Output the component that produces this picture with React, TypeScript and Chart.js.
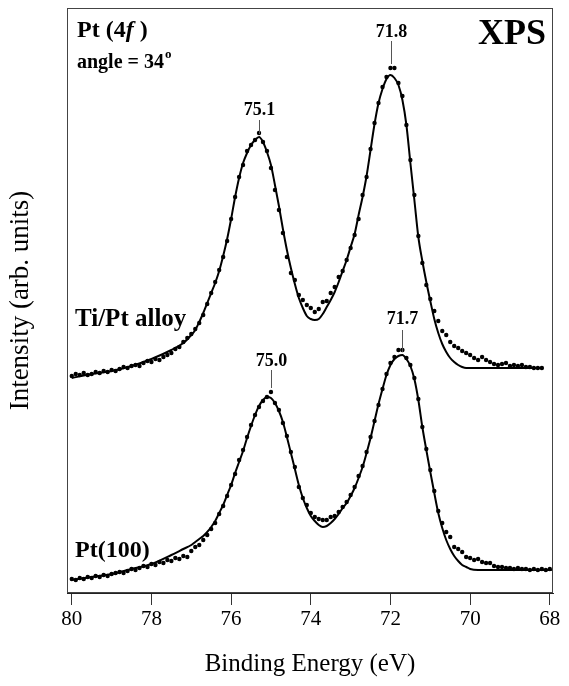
import React, { useEffect, useRef } from "react";
import { Chart, registerables } from "chart.js";

Chart.register(...registerables);

// Binding energy grid of the measured points (eV)
const ENERGY_GRID = [
  80.0, 79.9, 79.8, 79.7, 79.6, 79.5, 79.4, 79.3, 79.2, 79.1,
  79.0, 78.9, 78.8, 78.7, 78.6, 78.5, 78.4, 78.3, 78.2, 78.1,
  78.0, 77.9, 77.8, 77.7, 77.6, 77.5, 77.4, 77.3, 77.2, 77.1,
  77.0, 76.9, 76.8, 76.7, 76.6, 76.5, 76.4, 76.3, 76.2, 76.1,
  76.0, 75.9, 75.8, 75.7, 75.6, 75.5, 75.4, 75.3, 75.2, 75.1,
  75.0, 74.9, 74.8, 74.7, 74.6, 74.5, 74.4, 74.3, 74.2, 74.1,
  74.0, 73.9, 73.8, 73.7, 73.6, 73.5, 73.4, 73.3, 73.2, 73.1,
  73.0, 72.9, 72.8, 72.7, 72.6, 72.5, 72.4, 72.3, 72.2, 72.1,
  72.0, 71.9, 71.8, 71.7, 71.6, 71.5, 71.4, 71.3, 71.2, 71.1,
  71.0, 70.9, 70.8, 70.7, 70.6, 70.5, 70.4, 70.3, 70.2, 70.1,
  70.0, 69.9, 69.8, 69.7, 69.6, 69.5, 69.4, 69.3, 69.2, 69.1,
  69.0, 68.9, 68.8, 68.7, 68.6, 68.5, 68.4, 68.3, 68.2, 68.1,
  68.0,
];

// Ti/Pt alloy measured intensity (arb. units, offset spectrum)
const TI_PT_DOTS = [
  217, 219, 218, 220, 218, 219, 221, 220, 222, 221,
  223, 222, 224, 226, 225, 227, 228, 227, 230, 232,
  231, 234, 233, 236, 238, 240, 244, 246, 251, 255,
  259, 264, 270, 278, 289, 300, 311, 323, 336, 352,
  374, 396, 416, 428, 442, 448, 453, 460, 451, 442,
  425, 403, 383, 360, 336, 320, 313, 298, 293, 288,
  285, 281, 284, 291, 292, 300, 306, 316, 322, 333,
  345, 358, 374, 398, 416, 444, 470, 490, 506, 516,
  525, 525, 510, 497, 468, 433, 398, 357, 330, 308,
  294, 282, 272, 262, 258, 251, 247, 245, 242, 240,
  238, 235, 233, 236, 233, 231, 229, 228, 229, 230,
  227, 228, 227, 228, 226, 226, 225, 225, 225,
];

// Pt(100) measured intensity
const PT100_DOTS = [
  14, 13, 15, 14, 16, 15, 17, 16, 18, 17,
  19, 20, 21, 20, 22, 24, 23, 25, 27, 26,
  29, 28, 31, 30, 33, 32, 35, 34, 37, 36,
  42, 46, 48, 53, 58, 64, 70, 79, 87, 97,
  108, 119, 133, 143, 156, 168, 178, 186, 192, 196,
  201, 190, 183, 170, 157, 141, 126, 106, 95, 88,
  80, 76, 74, 73, 73, 76, 77, 81, 86, 91,
  98, 106, 117, 127, 141, 156, 172, 188, 204, 219,
  230, 236, 243, 243, 235, 228, 215, 194, 166, 144,
  123, 102, 82, 70, 61, 56, 46, 44, 41, 36,
  35, 33, 34, 31, 30, 30, 27, 26, 26, 25,
  25, 24, 25, 24, 24, 23, 24, 23, 24, 23,
  24,
];

// Fitted envelopes
const TI_PT_FIT_E = [
  80.0, 79.5, 79.0, 78.5, 78.0, 77.5, 77.2, 77.0,
  76.9, 76.8, 76.7, 76.6, 76.5, 76.4, 76.3, 76.2, 76.1, 76.0,
  75.9, 75.8, 75.7, 75.6, 75.5, 75.4, 75.3, 75.2, 75.1, 75.0,
  74.9, 74.8, 74.7, 74.6, 74.5, 74.4, 74.3, 74.2, 74.1, 74.0,
  73.9, 73.8, 73.7, 73.6, 73.5, 73.4, 73.3, 73.2, 73.1, 73.0,
  72.9, 72.8, 72.7, 72.6, 72.5, 72.4, 72.3, 72.2, 72.1, 72.0,
  71.9, 71.8, 71.7, 71.6, 71.5, 71.4, 71.3, 71.2, 71.1, 71.0,
  70.9, 70.8, 70.7, 70.6, 70.5, 70.4, 70.3, 70.2, 70.1, 70.0,
  68.2,
];
const TI_PT_FIT = [
  215, 219, 222, 227, 234, 243, 250, 258,
  263, 271, 280, 290, 300, 310, 322, 337, 354, 374,
  396, 415, 430, 440, 448, 453, 456, 451, 441, 428,
  408, 387, 364, 343, 325, 309, 295, 285, 277, 274,
  273, 274, 279, 286, 293, 301, 311, 322, 333, 346,
  359, 378, 396, 417, 443, 469, 490, 504, 514, 518,
  515, 508, 493, 468, 430, 393, 356, 332, 311, 292,
  274, 260, 249, 241, 235, 231, 228, 226, 225, 225,
  225,
];

const PT100_FIT_E = [
  80.0, 79.5, 79.0, 78.5, 78.0, 77.5, 77.2, 77.0,
  76.9, 76.8, 76.7, 76.6, 76.5, 76.4, 76.3, 76.2, 76.1, 76.0,
  75.9, 75.8, 75.7, 75.6, 75.5, 75.4, 75.3, 75.2, 75.1, 75.0,
  74.9, 74.8, 74.7, 74.6, 74.5, 74.4, 74.3, 74.2, 74.1, 74.0,
  73.9, 73.8, 73.7, 73.6, 73.5, 73.4, 73.3, 73.2, 73.1, 73.0,
  72.9, 72.8, 72.7, 72.6, 72.5, 72.4, 72.3, 72.2, 72.1, 72.0,
  71.9, 71.8, 71.7, 71.6, 71.5, 71.4, 71.3, 71.2, 71.1, 71.0,
  70.9, 70.8, 70.7, 70.6, 70.5, 70.4, 70.3, 70.2, 70.1, 70.0,
  69.8, 67.95,
];
const PT100_FIT = [
  13, 16, 19, 24, 29, 38, 44, 48,
  51, 54, 57, 61, 66, 72, 80, 88, 98, 108,
  120, 131, 142, 155, 167, 178, 187, 193, 196, 195,
  190, 182, 171, 156, 140, 124, 108, 95, 85, 77,
  72, 68, 66, 67, 70, 74, 79, 85, 90, 97,
  105, 115, 126, 140, 155, 172, 189, 204, 218, 228,
  234, 237, 238, 234, 227, 214, 193, 166, 143, 121,
  100, 80, 65, 53, 44, 37, 32, 28, 26, 24,
  23, 23,
];

const X_TICKS = [80, 78, 76, 74, 72, 70, 68];

const PEAK_LABELS = [
  { text: "75.1", e: 75.3, lineFrom: 459, lineTo: 473, textAt: 483 },
  { text: "71.8", e: 71.99, lineFrom: 529, lineTo: 552, textAt: 561 },
  { text: "75.0", e: 75.01, lineFrom: 205, lineTo: 223, textAt: 232 },
  { text: "71.7", e: 71.71, lineFrom: 241, lineTo: 263, textAt: 274 },
];

const SERIF = "'Liberation Serif', 'Times New Roman', serif";

const overlay = {
  id: "overlay",
  afterDatasetsDraw(chart: any) {
    const { ctx, chartArea: a, scales } = chart;
    const xs = scales.x;
    const ys = scales.y;
    ctx.save();
    // plot frame
    ctx.strokeStyle = "#444";
    ctx.lineWidth = 1;
    ctx.strokeRect(a.left + 0.5, a.top + 0.5, a.right - a.left - 1, a.bottom - a.top - 1);

    // peak markers
    ctx.fillStyle = "#000";
    ctx.strokeStyle = "#555";
    ctx.textAlign = "center";
    ctx.textBaseline = "middle";
    ctx.font = `bold 18px ${SERIF}`;
    for (const p of PEAK_LABELS) {
      const px = Math.round(xs.getPixelForValue(p.e)) + 0.5;
      ctx.beginPath();
      ctx.moveTo(px, ys.getPixelForValue(p.lineFrom));
      ctx.lineTo(px, ys.getPixelForValue(p.lineTo));
      ctx.stroke();
      ctx.fillText(p.text, px, ys.getPixelForValue(p.textAt));
    }

    // labels
    ctx.textAlign = "left";
    ctx.textBaseline = "alphabetic";
    let x = 77;
    ctx.font = `bold 24px ${SERIF}`;
    ctx.fillText("Pt (4", x, 37);
    x += ctx.measureText("Pt (4").width;
    ctx.font = `italic bold 24px ${SERIF}`;
    ctx.fillText("f", x, 37);
    x += ctx.measureText("f").width;
    ctx.font = `bold 24px ${SERIF}`;
    ctx.fillText(" )", x, 37);

    ctx.font = `bold 20px ${SERIF}`;
    ctx.fillText("angle = 34", 77, 68);
    const w = ctx.measureText("angle = 34").width;
    ctx.font = `bold 13px ${SERIF}`;
    ctx.fillText("o", 77 + w + 1, 58);

    ctx.font = `bold 36px ${SERIF}`;
    ctx.fillText("XPS", 478, 44);

    ctx.font = `bold 25px ${SERIF}`;
    ctx.fillText("Ti/Pt alloy", 75, 326);
    ctx.font = `bold 24px ${SERIF}`;
    ctx.fillText("Pt(100)", 75, 557);
    ctx.restore();
  },
};

export default function App() {
  const ref = useRef<HTMLCanvasElement | null>(null);

  useEffect(() => {
    if (!ref.current) return;
    const dot = {
      showLine: false,
      pointRadius: 2.2,
      pointBackgroundColor: "#000",
      pointBorderWidth: 0,
      borderColor: "#000",
    };
    const fit = {
      borderColor: "#000",
      borderWidth: 2,
      pointRadius: 0,
      fill: false,
      cubicInterpolationMode: "monotone" as const,
    };
    const chart = new Chart(ref.current, {
      type: "line",
      data: {
        datasets: [
          { label: "Ti/Pt alloy fit", data: TI_PT_FIT_E.map((e, i) => ({ x: e, y: TI_PT_FIT[i] })), ...fit },
          { label: "Ti/Pt alloy", data: TI_PT_DOTS.map((v, i) => ({ x: ENERGY_GRID[i], y: v })), ...dot },
          { label: "Pt(100) fit", data: PT100_FIT_E.map((e, i) => ({ x: e, y: PT100_FIT[i] })), ...fit },
          { label: "Pt(100)", data: PT100_DOTS.map((v, i) => ({ x: ENERGY_GRID[i], y: v })), ...dot },
        ],
      },
      options: {
        animation: false,
        responsive: true,
        maintainAspectRatio: false,
        layout: { padding: { top: 8, right: 16, left: 0, bottom: 0 } },
        plugins: { legend: { display: false }, tooltip: { enabled: false } },
        scales: {
          x: {
            type: "linear",
            reverse: true,
            min: 67.92,
            max: 80.12,
            afterBuildTicks: (axis: any) => {
              axis.ticks = X_TICKS.map((v) => ({ value: v }));
            },
            afterFit: (s: any) => {
              s.height = 93;
              s.paddingLeft = 0;
              s.paddingRight = 0;
            },
            grid: { drawOnChartArea: false, drawTicks: true, tickLength: 12, color: "#333" },
            border: { display: true, color: "#222", width: 1 },
            ticks: {
              color: "#000",
              padding: 2,
              maxRotation: 0,
              font: { family: SERIF, size: 21 },
              callback: (v: any) => String(v),
            },
            title: {
              display: true,
              text: "Binding Energy (eV)",
              color: "#000",
              font: { family: SERIF, size: 25 },
              padding: { top: 0, bottom: 7 },
            },
          },
          y: {
            type: "linear",
            min: 0,
            max: 585,
            afterFit: (s: any) => {
              s.width = 67;
              s.paddingTop = 0;
              s.paddingBottom = 0;
            },
            grid: { display: false },
            border: { display: false },
            ticks: { display: false },
            title: {
              display: true,
              text: "Intensity (arb. units)",
              color: "#000",
              font: { family: SERIF, size: 27 },
              padding: { top: 5, bottom: 0 },
            },
          },
        },
      },
      plugins: [overlay],
    });
    return () => chart.destroy();
  }, []);

  return (
    <div style={{ position: "fixed", left: 0, top: 0, width: "569px", height: "686px", background: "#fff" }}>
      <canvas ref={ref} />
    </div>
  );
}
